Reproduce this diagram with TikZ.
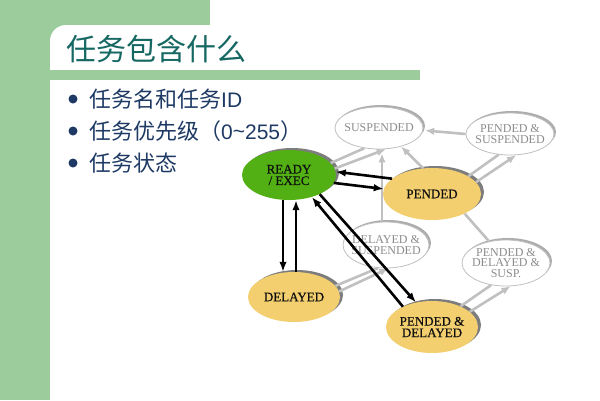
\documentclass[tikz,border=0pt]{standalone}
\usepackage{fontspec}
\setmainfont{Liberation Serif}
\newfontfamily\statefont{Liberation Serif}[FakeBold=0.35]
\newfontfamily\cjk{Noto Sans CJK SC}
\newfontfamily\lsans{Liberation Sans}
\usetikzlibrary{arrows.meta,shapes.geometric,shadows}
\definecolor{bggreen}{RGB}{156,204,156}
\definecolor{titlecol}{RGB}{22,104,98}
\definecolor{bulcol}{RGB}{30,58,100}
\definecolor{readygreen}{RGB}{82,176,20}
\definecolor{pendyellow}{RGB}{244,207,112}
\definecolor{shadowgray}{RGB}{125,125,125}
\definecolor{lightline}{RGB}{192,192,192}
\definecolor{ringgray}{RGB}{172,172,172}
\definecolor{greytext}{RGB}{140,140,140}
\definecolor{darktext}{RGB}{15,15,15}
\begin{document}
\begin{tikzpicture}[x=1pt,y=-1pt,
  stnode/.style={ellipse, inner xsep=-15pt, inner ysep=-6pt, align=center},
  fnode/.style={stnode, text=darktext, font=\statefont\fontsize{13}{11.5}\selectfont,
    drop shadow={shadow xshift=3pt, shadow yshift=2pt, fill=shadowgray, opacity=1}},
  gnode/.style={stnode, fill=white, draw=lightline, line width=0.8pt, text=greytext,
    font=\fontsize{12}{10.8}\selectfont,
    drop shadow={shadow xshift=2pt, shadow yshift=2pt, fill=ringgray, opacity=1}},
  blk/.style={line width=2.6pt, draw=black, -{Latex[length=10pt,width=7.5pt]}},
  gry/.style={line width=2.6pt, draw=lightline, -{Latex[length=9pt,width=7.5pt]}},
  gryplain/.style={line width=2.6pt, draw=lightline},
  bullet/.style={circle, fill=bulcol, minimum size=9pt, inner sep=0pt},
  btext/.style={anchor=west, inner sep=0pt, text=bulcol, font=\cjk\fontsize{22}{22}\selectfont}]
\useasboundingbox (0,0) rectangle (600,400);
% background
\fill[bggreen] (0,0) rectangle (210,400);
\fill[white, rounded corners=16pt] (50,25) rectangle (660,460);
\fill[bggreen] (50,70) rectangle (420,80);
% title
\node[anchor=west, inner sep=0pt, text=titlecol, font=\cjk\fontsize{30}{30}\selectfont] (title) at (66,49) {任务包含什么};
% bullets
\node[bullet] (b1) at (73,99) {};
\node[bullet] (b2) at (73,131) {};
\node[bullet] (b3) at (73,163) {};
\node[btext] (t1) at (89,99) {任务名和任务{\lsans\fontsize{21}{21}\selectfont ID}};
\node[btext] (t2) at (89,131) {任务优先级（{\lsans\fontsize{21}{21}\selectfont 0\raisebox{1pt}{\char`\~}255}）};
\node[btext] (t3) at (89,163) {任务状态};
% grey states
\node[gnode, minimum width=88pt, minimum height=42pt] (S) at (379,128) {SUSPENDED};
\node[gnode, minimum width=88pt, minimum height=42pt] (PS) at (510,134) {PENDED \&\\SUSPENDED};
\node[gnode, minimum width=86pt, minimum height=46pt] (DS) at (386,245) {DELAYED \&\\SUSPENDED};
\node[gnode, minimum width=88pt, minimum height=46pt] (PDS) at (506,263) {PENDED \&\\DELAYED \&\\SUSP.};
% main states
\node[fnode, fill=readygreen, minimum width=94pt, minimum height=50pt] (R) at (289,175) {READY\\/ EXEC};
\node[fnode, fill=pendyellow, minimum width=98pt, minimum height=52pt] (P) at (432,194) {PENDED};
\node[fnode, fill=pendyellow, minimum width=92pt, minimum height=50pt] (D) at (294,297) {DELAYED};
\node[fnode, fill=pendyellow, minimum width=92pt, minimum height=52pt] (PD) at (432,327) {PENDED \&\\DELAYED};
% grey transitions
\draw[gryplain] (R.16) -- (S.-126);
\draw[gry] (R.8) -- (S.-72);
\draw[gry] (P.109) -- (S.-40);
\draw[gry] ([xshift=-4pt]DS.north) -- ([xshift=3pt,yshift=-4pt]S.south);
\draw[gry, shorten >=2pt] (PS.180) -- (S.-3);
\draw[gryplain] (P.26) -- (PS.-119);
\draw[gry] (P.15) -- (PS.-74);
\draw[gryplain] (P.-31) -- (PDS.128);
\draw[gryplain] (D.15) -- (DS.-109);
\draw[gry] (D.7) -- (DS.-84);
\draw[gryplain] (PD.36) -- (PDS.-124);
\draw[gry] (PD.22) -- (PDS.-79);
% black transitions
\draw[blk] (P.159) -- (R.4);
\draw[blk] (R.-10) -- (P.174);
\draw[blk] ([xshift=-6pt]R.south) -- ([xshift=-11pt]D.north);
\draw[blk] ([xshift=2pt]D.north) -- ([xshift=7pt]R.south);
\draw[blk] (PD.145) -- (R.-44);
\draw[blk] (R.-32) -- (PD.123);
\end{tikzpicture}
\end{document}
